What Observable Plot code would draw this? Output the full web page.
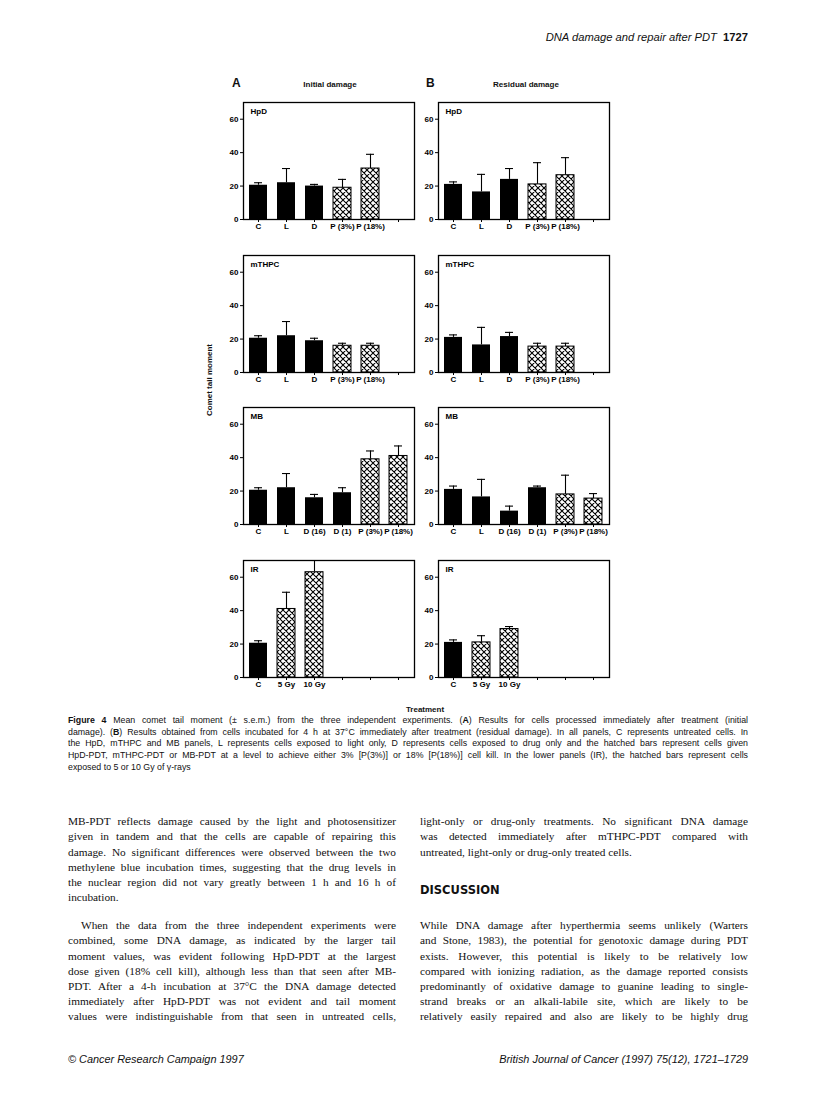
<!DOCTYPE html>
<html>
<head>
<meta charset="utf-8">
<script src="https://cdn.jsdelivr.net/npm/d3@7"></script>
<script src="https://cdn.jsdelivr.net/npm/@observablehq/plot@0.6"></script>
<style>
  html, body { margin: 0; padding: 0; background: white; }
  #page { position: relative; width: 816px; height: 1107px; overflow: hidden; background: white; color: #111; }
  .abs { position: absolute; white-space: nowrap; }
  .sans { font-family: "Liberation Sans", Arial, Helvetica, sans-serif; }
  .serif { font-family: "Liberation Serif", "Times New Roman", serif; }
</style>
</head>
<body>
<div id="page"></div>
<script>
// ---------------- DATA ----------------
const slotCount = 6;
const yTicks = [0, 20, 40, 60];
const columnTitles = ["Initial damage", "Residual damage"];
const columnLetters = ["A", "B"];
const rowNames = ["HpD", "mTHPC", "MB", "IR"];

const hpdLabels = ["C", "L", "D", "P (3%)", "P (18%)"];
const hpdHatched = [false, false, false, true, true];
const hpdInitial = [20.5, 22, 20, 19, 30.5];
const hpdInitialErr = [22, 30.5, 21, 24, 39];
const hpdResidual = [21, 16.5, 24, 21, 26.5];
const hpdResidualErr = [22.5, 27, 30.5, 34, 37];

const mthpcLabels = ["C", "L", "D", "P (3%)", "P (18%)"];
const mthpcHatched = [false, false, false, true, true];
const mthpcInitial = [20.5, 22, 19, 16, 16];
const mthpcInitialErr = [22, 30.5, 20.5, 17.5, 17.5];
const mthpcResidual = [21, 16.5, 21.5, 15.5, 15.5];
const mthpcResidualErr = [22.5, 27, 24, 17.5, 17.5];

const mbLabels = ["C", "L", "D (16)", "D (1)", "P (3%)", "P (18%)"];
const mbHatched = [false, false, false, false, true, true];
const mbInitial = [20.5, 22, 16, 19, 39, 41];
const mbInitialErr = [22, 30.5, 18, 22, 44, 47];
const mbResidual = [21, 16.5, 8, 22, 18, 15.5];
const mbResidualErr = [23, 27, 11, 23, 29.5, 18.5];

const irLabels = ["C", "5 Gy", "10 Gy"];
const irHatched = [false, true, true];
const irInitial = [20.5, 41, 63];
const irInitialErr = [22, 51, 75];
const irResidual = [21, 21, 29];
const irResidualErr = [22.5, 25, 30.5];

const panels = [
  {name: "HpD", labels: hpdLabels, hatched: hpdHatched, values: [hpdInitial, hpdResidual], errs: [hpdInitialErr, hpdResidualErr]},
  {name: "mTHPC", labels: mthpcLabels, hatched: mthpcHatched, values: [mthpcInitial, mthpcResidual], errs: [mthpcInitialErr, mthpcResidualErr]},
  {name: "MB", labels: mbLabels, hatched: mbHatched, values: [mbInitial, mbResidual], errs: [mbInitialErr, mbResidualErr]},
  {name: "IR", labels: irLabels, hatched: irHatched, values: [irInitial, irResidual], errs: [irInitialErr, irResidualErr]}
];

// ---------------- TEXT ----------------
const headerText = "DNA damage and repair after PDT";
const headerPage = "1727";
const yAxisLabel = "Comet tail moment";
const xAxisLabel = "Treatment";
const captionLines = [
  "<b>Figure 4</b> Mean comet tail moment (± s.e.m.) from the three independent experiments. (<b>A</b>) Results for cells processed immediately after treatment (initial",
  "damage). (<b>B</b>) Results obtained from cells incubated for 4 h at 37°C immediately after treatment (residual damage). In all panels, C represents untreated cells. In",
  "the HpD, mTHPC and MB panels, L represents cells exposed to light only, D represents cells exposed to drug only and the hatched bars represent cells given",
  "HpD-PDT, mTHPC-PDT or MB-PDT at a level to achieve either 3% [P(3%)] or 18% [P(18%)] cell kill. In the lower panels (IR), the hatched bars represent cells",
  "exposed to 5 or 10 Gy of γ-rays"
];
const leftColA = [
  "MB-PDT reflects damage caused by the light and photosensitizer",
  "given in tandem and that the cells are capable of repairing this",
  "damage. No significant differences were observed between the two",
  "methylene blue incubation times, suggesting that the drug levels in",
  "the nuclear region did not vary greatly between 1 h and 16 h of",
  "incubation."
];
const leftColB = [
  "When the data from the three independent experiments were",
  "combined, some DNA damage, as indicated by the larger tail",
  "moment values, was evident following HpD-PDT at the largest",
  "dose given (18% cell kill), although less than that seen after MB-",
  "PDT. After a 4-h incubation at 37°C the DNA damage detected",
  "immediately after HpD-PDT was not evident and tail moment",
  "values were indistinguishable from that seen in untreated cells,"
];
const rightColA = [
  "light-only or drug-only treatments. No significant DNA damage",
  "was detected immediately after mTHPC-PDT compared with",
  "untreated, light-only or drug-only treated cells."
];
const discussionTitle = "DISCUSSION";
const rightColB = [
  "While DNA damage after hyperthermia seems unlikely (Warters",
  "and Stone, 1983), the potential for genotoxic damage during PDT",
  "exists. However, this potential is likely to be relatively low",
  "compared with ionizing radiation, as the damage reported consists",
  "predominantly of oxidative damage to guanine leading to single-",
  "strand breaks or an alkali-labile site, which are likely to be",
  "relatively easily repaired and also are likely to be highly drug"
];
const footerLeft = "© Cancer Research Campaign 1997";
const footerRight = "British Journal of Cancer (1997) 75(12), 1721–1729";

// ---------------- LAYOUT ----------------
const page = document.getElementById("page");
const colFrameLeft = [242.7, 438.3];
const rowFrameTop = [102.3, 255, 407.3, 560];
const FW = 171, FH = 117;
const ML = 32, MR = 4, MT = 4, MB = 16;

function addText(html, {x, y, size, cls = "sans", weight = "normal", style = "normal", anchor = "start", lh}) {
  const el = document.createElement("span");
  el.className = "abs " + cls;
  el.innerHTML = html;
  const L = lh || size * 1.2;
  el.style.fontSize = size + "px";
  el.style.lineHeight = L + "px";
  el.style.fontWeight = weight;
  el.style.fontStyle = style;
  el.style.top = (y - L / 2) + "px";
  page.appendChild(el);
  const w = el.getBoundingClientRect().width;
  if (anchor === "start") el.style.left = x + "px";
  else if (anchor === "middle") el.style.left = (x - w / 2) + "px";
  else el.style.left = (x - w) + "px";
  return el;
}
function justify(el, x, width) {
  el.style.left = x + "px";
  const w = el.getBoundingClientRect().width;
  const spaces = (el.textContent.match(/ /g) || []).length;
  if (spaces) el.style.wordSpacing = ((width - w) / spaces) + "px";
}

function hatchDefs(id) {
  return () => {
    const g = document.createElementNS("http://www.w3.org/2000/svg", "defs");
    g.innerHTML = `<pattern id="${id}" patternUnits="userSpaceOnUse" width="6" height="6">
      <rect width="6" height="6" fill="white"/>
      <path d="M0,0L6,6M6,0L0,6M-1,1L1,-1M5,7L7,5M-1,5L1,7M5,-1L7,1" stroke="black" stroke-width="1.1" fill="none"/>
    </pattern>`;
    return g;
  };
}

panels.forEach((p, r) => {
  [0, 1].forEach(c => {
    const rows = p.labels.map((l, i) => ({slot: i, label: l, value: p.values[c][i], err: p.errs[c][i], hatched: p.hatched[i]}));
    const pid = `hatch-${r}-${c}`;
    const chart = Plot.plot({
      width: FW + ML + MR,
      height: FH + MT + MB,
      marginLeft: ML, marginRight: MR, marginTop: MT, marginBottom: MB,
      x: {type: "band", domain: d3.range(slotCount), paddingInner: 0.35, paddingOuter: 0.175,
          tickSize: 3, tickPadding: 1, tickFormat: i => p.labels[i] ?? "", label: null},
      y: {domain: [0, 70], clamp: true, ticks: yTicks, tickSize: 3, tickPadding: 2, label: null},
      style: {
        fontFamily: "'Liberation Sans', Arial, sans-serif",
        fontSize: "8px",
        fontWeight: "bold",
        background: "transparent",
        overflow: "visible",
        position: "absolute",
        left: (colFrameLeft[c] - ML) + "px",
        top: (rowFrameTop[r] - MT) + "px",
        color: "black"
      },
      marks: [
        hatchDefs(pid),
        Plot.ruleX(rows, {x: "slot", y1: "value", y2: "err", stroke: "black", strokeWidth: 1.1}),
        Plot.tickY(rows.filter(d => d.err < 70), {x: "slot", y: "err", stroke: "black", strokeWidth: 1.1, insetLeft: 5, insetRight: 5}),
        Plot.barY(rows.filter(d => !d.hatched), {x: "slot", y: "value", fill: "black"}),
        Plot.barY(rows.filter(d => d.hatched), {x: "slot", y: "value", fill: `url(#${pid})`, stroke: "black", strokeWidth: 1}),
        Plot.frame({stroke: "black", strokeWidth: 1.3}),
        Plot.text([p.name], {frameAnchor: "top-left", dx: 7, dy: 6, textAnchor: "start", lineAnchor: "top", fontSize: 8, fontWeight: "bold", fill: "black"})
      ]
    });
    page.appendChild(chart);
  });
});

// Column titles
addText(columnLetters[0], {x: 232, y: 83, size: 12, weight: "bold"});
addText(columnTitles[0], {x: 330, y: 85, size: 8, weight: "bold", anchor: "middle"});
addText(columnLetters[1], {x: 426, y: 83, size: 12, weight: "bold"});
addText(columnTitles[1], {x: 526, y: 85, size: 8, weight: "bold", anchor: "middle"});

// Y axis label (rotated)
{
  const el = document.createElement("span");
  el.className = "abs sans";
  el.textContent = yAxisLabel;
  el.style.fontSize = "8px";
  el.style.fontWeight = "bold";
  el.style.lineHeight = "10px";
  page.appendChild(el);
  const w = el.getBoundingClientRect().width;
  el.style.left = (210 - w / 2) + "px";
  el.style.top = (380 - 5) + "px";
  el.style.transform = "rotate(-90deg)";
  el.style.transformOrigin = "50% 50%";
}
addText(xAxisLabel, {x: 425, y: 710, size: 8, weight: "bold", anchor: "middle"});

// Header
addText(`<i>${headerText}</i>&nbsp;&nbsp;<b>${headerPage}</b>`, {x: 748, y: 38, size: 11.2, anchor: "end"});

// Caption
const capLeft = 68, capWidth = 680;
captionLines.forEach((line, i) => {
  const el = addText(line, {x: capLeft, y: 720 + i * 11.8, size: 8.8});
  if (i < captionLines.length - 1) justify(el, capLeft, capWidth);
});

// Body text
const colL = 68, colR = 420, colW = 328, lh = 15.2, indent = 13;
const y0 = 822, yW = 926;
leftColA.forEach((t, i) => {
  const el = addText(t, {x: colL, y: y0 + i * lh, size: 11.3, cls: "serif"});
  if (i < leftColA.length - 1) justify(el, colL, colW);
});
leftColB.forEach((t, i) => {
  const x = i === 0 ? colL + indent : colL;
  const el = addText(t, {x, y: yW + i * lh, size: 11.3, cls: "serif"});
  justify(el, x, colW - (i === 0 ? indent : 0));
});
rightColA.forEach((t, i) => {
  const el = addText(t, {x: colR, y: y0 + i * lh, size: 11.3, cls: "serif"});
  if (i < rightColA.length - 1) justify(el, colR, colW);
});
addText(discussionTitle, {x: colR, y: 891, size: 11.5, cls: "sans", weight: "900"}).style.fontFamily = "'DejaVu Sans', sans-serif";
rightColB.forEach((t, i) => {
  const el = addText(t, {x: colR, y: yW + i * lh, size: 11.3, cls: "serif"});
  justify(el, colR, colW);
});

// Footer
addText(footerLeft, {x: 68, y: 1060, size: 10.9, style: "italic"});
addText(footerRight, {x: 748, y: 1060, size: 10.9, style: "italic", anchor: "end"});
</script>
</body>
</html>
